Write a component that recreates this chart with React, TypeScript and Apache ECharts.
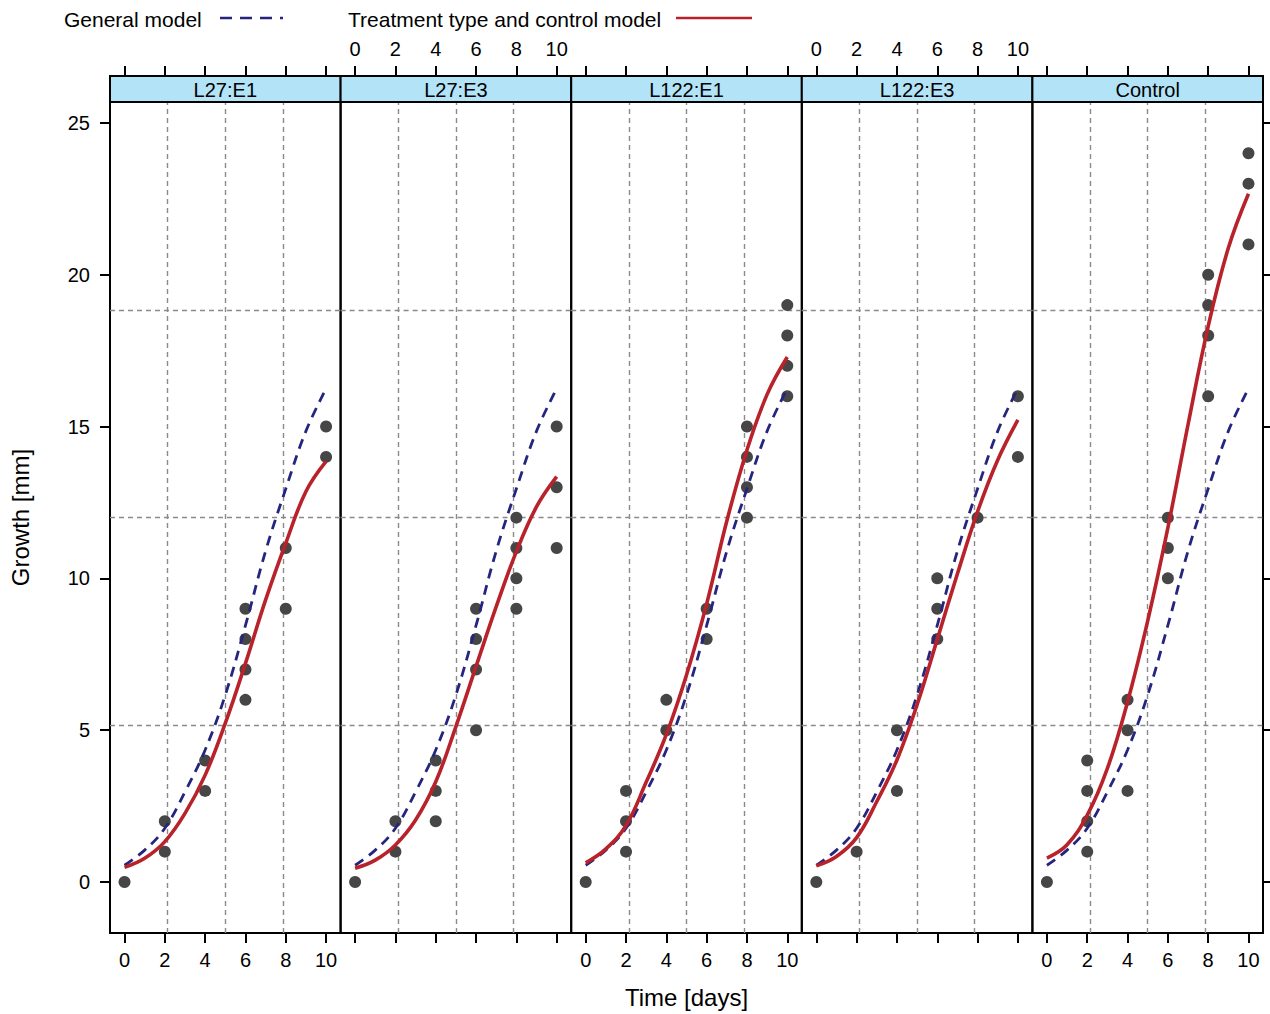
import React, { useEffect, useRef } from "react";
import * as echarts from "echarts";

// ---------- data ----------
const panelNames = ["L27:E1", "L27:E3", "L122:E1", "L122:E3", "Control"];
const days = [0, 1, 2, 3, 4, 5, 6, 7, 8, 9, 10];

// general model (same in every panel)
const generalModel = [0.55, 1.05, 1.77, 2.97, 4.35, 6.16, 8.45, 10.9, 12.95, 14.85, 16.25];

// treatment type and control model, one per panel
const modelL27E1 = [0.48, 0.78, 1.33, 2.26, 3.52, 5.23, 7.2, 9.29, 11.16, 12.86, 13.85];
const modelL27E3 = [0.45, 0.72, 1.22, 2.04, 3.3, 5.12, 7.1, 9.07, 10.88, 12.36, 13.35];
const modelL122E1 = [0.63, 1.09, 1.86, 3.29, 4.86, 6.82, 9.16, 11.89, 14.23, 16.06, 17.29];
const modelL122E3 = [0.53, 0.84, 1.46, 2.65, 4.02, 5.84, 7.99, 10.15, 12.2, 13.9, 15.22];
const modelControl = [0.79, 1.23, 2.2, 3.74, 5.93, 8.6, 11.66, 15.06, 18.3, 20.88, 22.67];

// observations [day, growth]
const obsL27E1 = [[0, 0], [2, 2], [2, 1], [4, 4], [4, 3], [6, 9], [6, 8], [6, 7], [6, 6], [8, 11], [8, 9], [10, 15], [10, 14]];
const obsL27E3 = [[0, 0], [2, 2], [2, 1], [4, 4], [4, 3], [4, 2], [6, 9], [6, 8], [6, 7], [6, 5], [8, 12], [8, 11], [8, 10], [8, 9], [10, 15], [10, 13], [10, 11]];
const obsL122E1 = [[0, 0], [2, 3], [2, 2], [2, 1], [4, 6], [4, 5], [6, 9], [6, 8], [8, 15], [8, 14], [8, 13], [8, 12], [10, 19], [10, 18], [10, 17], [10, 16]];
const obsL122E3 = [[0, 0], [2, 1], [4, 5], [4, 3], [6, 10], [6, 9], [6, 8], [8, 12], [10, 16], [10, 14]];
const obsControl = [[0, 0], [2, 4], [2, 3], [2, 2], [2, 1], [4, 6], [4, 5], [4, 3], [6, 12], [6, 11], [6, 10], [8, 20], [8, 19], [8, 18], [8, 16], [10, 24], [10, 23], [10, 21]];

const treatmentModels = [modelL27E1, modelL27E3, modelL122E1, modelL122E3, modelControl];
const observations = [obsL27E1, obsL27E3, obsL122E1, obsL122E3, obsControl];

// axes
const xTicks = [0, 2, 4, 6, 8, 10];
const yTicks = [0, 5, 10, 15, 20, 25];
const xRange = [-0.72, 10.72];
const yRange = [-1.68, 25.69];
const gridLinesX = [2.14, 5, 7.86];
const gridLinesY = [5.16, 12, 18.84];

// ---------- layout / style ----------
const FONT = "'Liberation Sans', Arial, Helvetica, sans-serif";
const PANEL_LEFT = 110;
const PANEL_W = 230.6;
const PANEL_TOP = 102;
const PANEL_H = 831;
const STRIP_H = 26;
const RED = "#b8222a";
const BLUE = "#25257f";
const DOT = "#464646";
const GRIDCOL = "#8a8a8a";

function buildOption() {
  const grid: any[] = [];
  const xAxis: any[] = [];
  const yAxis: any[] = [];
  const series: any[] = [];
  const graphic: any[] = [];

  panelNames.forEach((name, i) => {
    const left = PANEL_LEFT + i * PANEL_W;
    grid.push({
      left,
      top: PANEL_TOP,
      width: PANEL_W,
      height: PANEL_H,
      show: true,
      borderColor: "#000",
      borderWidth: 2,
      backgroundColor: "transparent",
    });

    const tickStyle = { show: true, inside: false, length: 10, customValues: xTicks, lineStyle: { color: "#000", width: 2 } };
    const labelStyle = (show: boolean) => ({
      show,
      customValues: xTicks,
      color: "#000",
      fontSize: 20,
      fontFamily: FONT,
      margin: 17,
    });
    // bottom axis
    xAxis.push({
      type: "value",
      gridIndex: i,
      position: "bottom",
      min: xRange[0],
      max: xRange[1],
      axisLine: { show: false, onZero: false },
      axisTick: tickStyle,
      axisLabel: labelStyle(i % 2 === 0),
      splitLine: { show: false },
      name: i === 2 ? "Time [days]" : "",
      nameLocation: "middle",
      nameGap: 52,
      nameTextStyle: { fontSize: 24, fontFamily: FONT, color: "#000" },
    });
    // top axis (above the strip)
    xAxis.push({
      type: "value",
      gridIndex: i,
      position: "top",
      offset: STRIP_H,
      min: xRange[0],
      max: xRange[1],
      axisLine: { show: false, onZero: false },
      axisTick: tickStyle,
      axisLabel: labelStyle(i % 2 === 1),
      splitLine: { show: false },
    });

    const showY = i === 0 || i === 4;
    yAxis.push({
      type: "value",
      gridIndex: i,
      position: i === 4 ? "right" : "left",
      min: yRange[0],
      max: yRange[1],
      axisLine: { show: false, onZero: false },
      axisTick: { show: showY, inside: false, length: 10, customValues: yTicks, lineStyle: { color: "#000", width: 2 } },
      axisLabel: { show: i === 0, customValues: yTicks, color: "#000", fontSize: 20, fontFamily: FONT, margin: 20 },
      splitLine: { show: false },
      name: i === 0 ? "Growth [mm]" : "",
      nameLocation: "middle",
      nameGap: 78,
      nameRotate: 90,
      nameTextStyle: { fontSize: 24, fontFamily: FONT, color: "#000" },
    });

    series.push({
      type: "scatter",
      xAxisIndex: 2 * i,
      yAxisIndex: i,
      data: observations[i],
      symbol: "circle",
      symbolSize: 12,
      itemStyle: { color: DOT, opacity: 1 },
      z: 3,
      markLine: {
        silent: true,
        z: 1,
        symbol: ["none", "none"],
        label: { show: false },
        lineStyle: { type: [5, 4], color: GRIDCOL, width: 1.4 },
        data: [
          ...gridLinesX.map((v) => ({ xAxis: v })),
          ...gridLinesY.map((v) => ({ yAxis: v })),
        ],
      },
    });
    series.push({
      type: "line",
      name: "General model",
      xAxisIndex: 2 * i,
      yAxisIndex: i,
      data: days.map((d, k) => [d, generalModel[k]]),
      smooth: 0.4,
      showSymbol: false,
      symbol: "none",
      lineStyle: { color: BLUE, width: 2.8, type: [10, 7] },
      z: 4,
    });
    series.push({
      type: "line",
      name: "Treatment type and control model",
      xAxisIndex: 2 * i,
      yAxisIndex: i,
      data: days.map((d, k) => [d, treatmentModels[i][k]]),
      smooth: 0.4,
      showSymbol: false,
      symbol: "none",
      lineStyle: { color: RED, width: 3.6 },
      z: 5,
    });

    // strip
    graphic.push({
      type: "rect",
      shape: { x: left, y: PANEL_TOP - STRIP_H, width: PANEL_W, height: STRIP_H },
      style: { fill: "#b3e3f7", stroke: "#000", lineWidth: 2 },
      z: 10,
    });
    graphic.push({
      type: "text",
      x: left + PANEL_W / 2,
      y: PANEL_TOP - STRIP_H / 2 + 1,
      style: { text: name, fontSize: 20, fontFamily: FONT, fill: "#000", align: "center", verticalAlign: "middle" },
      z: 11,
    });
  });

  // legend drawn as graphic
  graphic.push({
    type: "text",
    x: 64,
    y: 19,
    style: { text: "General model", fontSize: 21, fontFamily: FONT, fill: "#000", align: "left", verticalAlign: "middle" },
  });
  graphic.push({
    type: "line",
    shape: { x1: 220, y1: 18, x2: 283, y2: 18 },
    style: { stroke: BLUE, lineWidth: 2.6, lineDash: [12, 8] },
  });
  graphic.push({
    type: "text",
    x: 348,
    y: 19,
    style: { text: "Treatment type and control model", fontSize: 21, fontFamily: FONT, fill: "#000", align: "left", verticalAlign: "middle" },
  });
  graphic.push({
    type: "line",
    shape: { x1: 676, y1: 18, x2: 752, y2: 18 },
    style: { stroke: RED, lineWidth: 2.6 },
  });

  return {
    animation: false,
    backgroundColor: "#fff",
    grid,
    xAxis,
    yAxis,
    series,
    graphic,
  };
}

export default function App() {
  const ref = useRef<HTMLDivElement>(null);
  useEffect(() => {
    if (!ref.current) return;
    const chart = echarts.init(ref.current, undefined, { renderer: "svg" });
    chart.setOption(buildOption() as any);
    return () => chart.dispose();
  }, []);
  return (
    <div
      ref={ref}
      style={{ position: "fixed", left: 0, top: 0, width: 1270, height: 1014, background: "#fff" }}
    />
  );
}
